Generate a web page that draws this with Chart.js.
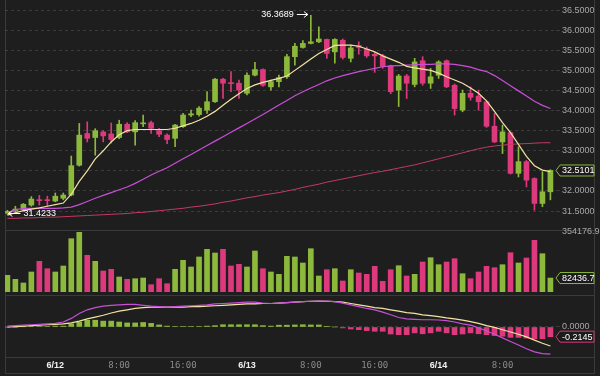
<!DOCTYPE html>
<html>
<head>
<meta charset="utf-8">
<script src="https://cdn.jsdelivr.net/npm/chart.js@4.4.1/dist/chart.umd.min.js"></script>
<style>
html,body{margin:0;padding:0;background:#1e1e1e;width:600px;height:376px;overflow:hidden;}
#wrap{position:relative;width:600px;height:376px;}
.ln{position:absolute;background:#3a3a3a;}
canvas{position:absolute;left:0;}
</style>
</head>
<body>
<div id="wrap">
  <div class="ln" style="left:5px;top:0;width:1px;height:374px;"></div>
  <div class="ln" style="left:594px;top:0;width:1px;height:374px;"></div>
  <div class="ln" style="left:5px;top:230px;width:590px;height:1px;"></div>
  <div class="ln" style="left:5px;top:295px;width:590px;height:1px;"></div>
  <div class="ln" style="left:5px;top:357px;width:590px;height:1px;"></div>
  <div class="ln" style="left:5px;top:373px;width:590px;height:1px;"></div>
  <canvas id="cPrice" width="600" height="236" style="top:0px"></canvas>
  <canvas id="cVol" width="600" height="70" style="top:226px"></canvas>
  <canvas id="cMacd" width="600" height="86" style="top:290px"></canvas>
</div>
<script>
// ---------------- data (hourly candles, 6/11 18:00 .. 6/14 14:00) ----------------
const candleOpen  = [31.45,31.50,31.54,31.65,31.78,31.78,31.75,31.82,31.90,32.64,33.43,33.33,33.47,33.42,33.33,33.66,33.47,33.67,33.70,33.50,33.39,33.31,33.60,33.89,33.90,34.01,34.22,34.78,34.69,34.68,34.43,34.88,35.02,34.59,34.72,34.84,35.34,35.57,35.67,35.71,35.77,35.46,35.75,35.30,35.62,35.53,35.40,35.36,35.11,34.51,34.86,34.65,35.24,34.68,34.88,35.24,34.63,34.01,34.43,34.36,34.22,33.61,33.22,33.45,32.44,32.73,32.31,31.69,31.98];
const candleHigh  = [31.52,31.62,31.69,31.86,31.89,31.87,31.95,31.95,32.87,33.68,33.72,33.55,33.50,33.69,33.76,33.70,33.75,33.89,33.74,33.56,33.42,33.66,33.93,34.01,34.10,34.47,34.80,34.80,34.97,34.76,34.94,35.20,35.04,34.76,34.88,35.40,35.67,35.74,36.3689,36.08,35.78,35.79,35.78,35.63,35.71,35.58,35.44,35.40,35.13,34.90,34.90,35.30,35.34,35.05,35.24,35.26,34.66,34.51,34.59,34.51,34.24,33.93,33.64,33.47,33.10,32.76,32.33,32.48,32.53];
const candleLow   = [31.4233,31.47,31.50,31.62,31.65,31.62,31.73,31.78,31.88,32.62,33.22,32.89,33.22,33.19,33.30,33.45,33.14,33.60,33.43,33.35,33.18,33.10,33.58,33.85,33.86,33.93,34.20,34.30,34.47,34.30,34.39,34.86,34.60,34.51,34.59,34.80,35.13,35.55,35.66,35.69,35.30,35.18,35.28,35.21,35.40,35.32,34.95,35.05,34.42,34.10,34.30,34.59,34.63,34.55,34.80,34.57,33.89,33.97,34.26,34.01,33.58,33.20,32.93,32.42,32.35,32.10,31.52,31.61,31.78];
const candleClose = [31.49,31.55,31.67,31.80,31.76,31.76,31.87,31.90,32.63,33.39,33.31,33.50,33.37,33.28,33.66,33.47,33.70,33.69,33.56,33.41,33.28,33.64,33.89,33.92,34.06,34.22,34.78,34.68,34.67,34.51,34.88,35.02,34.63,34.72,34.82,35.34,35.60,35.67,35.71,35.78,35.42,35.77,35.32,35.56,35.57,35.36,35.36,35.10,34.47,34.86,34.68,35.21,34.68,34.84,35.21,34.59,34.05,34.43,34.33,34.22,33.61,33.22,33.47,32.44,32.73,32.27,31.69,31.98,32.5101];
const volumes = [98580,74970,53130,118060,181220,137540,118060,153480,314630,354176.98,216640,181220,123960,134000,88545,74970,78510,82640,43090,78510,49000,134000,187120,147580,206610,252060,230220,252060,153480,163510,147580,242020,137540,118060,104480,210740,206610,171190,255600,94450,131640,137540,64930,131640,112160,104480,151710,63160,131640,155250,94450,104480,177090,202470,161150,177090,196570,108020,78510,118060,151710,143440,161150,231990,171190,200700,305190,226080,82436.7];
const maShort = [31.40,31.46,31.51,31.55,31.58,31.62,31.66,31.70,31.92,32.24,32.50,32.80,33.00,33.22,33.40,33.50,33.53,33.53,33.53,33.53,33.53,33.56,33.62,33.68,33.76,33.86,33.98,34.13,34.28,34.42,34.55,34.64,34.70,34.75,34.80,34.86,35.00,35.14,35.28,35.42,35.52,35.62,35.63,35.63,35.60,35.53,35.46,35.36,35.28,35.20,35.10,35.06,35.03,35.00,34.93,34.84,34.76,34.68,34.56,34.43,34.24,33.98,33.70,33.45,33.16,32.86,32.63,32.52,32.48];
const maMid = [31.43,31.53,31.57,31.57,31.57,31.57,31.57,31.58,31.60,31.66,31.74,31.82,31.89,31.96,32.03,32.10,32.19,32.29,32.40,32.49,32.58,32.69,32.80,32.91,33.02,33.13,33.24,33.35,33.46,33.57,33.68,33.79,33.90,34.02,34.14,34.25,34.37,34.47,34.56,34.65,34.74,34.81,34.87,34.92,34.97,35.01,35.05,35.09,35.11,35.12,35.13,35.14,35.15,35.15,35.16,35.16,35.15,35.12,35.08,35.02,34.97,34.87,34.75,34.62,34.49,34.36,34.23,34.13,34.05];
const maLong = [31.32,31.32,31.33,31.33,31.34,31.35,31.35,31.36,31.37,31.38,31.39,31.40,31.41,31.42,31.43,31.44,31.46,31.47,31.49,31.51,31.53,31.55,31.57,31.60,31.62,31.65,31.68,31.72,31.75,31.79,31.83,31.86,31.90,31.93,31.96,32.00,32.04,32.09,32.13,32.17,32.22,32.26,32.30,32.34,32.38,32.42,32.46,32.49,32.53,32.57,32.61,32.65,32.70,32.75,32.80,32.85,32.90,32.95,33.00,33.05,33.09,33.12,33.14,33.16,33.17,33.18,33.19,33.20,33.20];
const macdDif = [0.02,0.03,0.04,0.05,0.06,0.07,0.08,0.11,0.19,0.30,0.38,0.43,0.46,0.48,0.49,0.50,0.50,0.48,0.46,0.45,0.44,0.45,0.46,0.47,0.48,0.49,0.51,0.52,0.53,0.54,0.55,0.55,0.53,0.52,0.53,0.54,0.55,0.56,0.57,0.575,0.575,0.56,0.53,0.49,0.45,0.41,0.38,0.33,0.27,0.21,0.18,0.17,0.16,0.16,0.155,0.14,0.11,0.07,0.04,-0.02,-0.09,-0.16,-0.24,-0.32,-0.40,-0.48,-0.55,-0.59,-0.60];
const macdDea = [0.00,0.01,0.02,0.03,0.04,0.05,0.06,0.07,0.09,0.13,0.18,0.22,0.26,0.31,0.35,0.38,0.41,0.43,0.44,0.44,0.44,0.44,0.44,0.45,0.45,0.46,0.47,0.48,0.49,0.50,0.51,0.51,0.52,0.52,0.53,0.54,0.55,0.56,0.57,0.575,0.57,0.56,0.55,0.52,0.49,0.46,0.43,0.41,0.38,0.35,0.32,0.30,0.27,0.25,0.23,0.20,0.18,0.15,0.12,0.08,0.03,-0.01,-0.06,-0.11,-0.16,-0.22,-0.29,-0.36,-0.42];
const macdHist = [-0.01,-0.01,0.005,0.01,0.01,0.01,0.02,0.02,0.07,0.11,0.15,0.15,0.13,0.13,0.11,0.09,0.09,0.10,0.08,0.045,0.02,0.01,0.01,0.01,0.01,0.02,0.03,0.05,0.05,0.05,0.05,0.05,0.03,0.02,0.04,0.04,0.045,0.05,0.045,0.045,0.015,0.00,-0.02,-0.045,-0.06,-0.08,-0.095,-0.095,-0.155,-0.17,-0.17,-0.13,-0.15,-0.13,-0.095,-0.13,-0.17,-0.155,-0.13,-0.15,-0.17,-0.19,-0.205,-0.23,-0.23,-0.245,-0.26,-0.26,-0.2145];
const priceTicks = [31.5,32.0,32.5,33.0,33.5,34.0,34.5,35.0,35.5,36.0,36.5];
const volumeTicks = [354176.98];
const macdTicks = [0];
const timeTickIndex = [6,14,22,30,38,46,54,62];
const timeTickLabels = ['6/12','8:00','16:00','6/13','8:00','16:00','6/14','8:00'];

// ---------------- style ----------------
const GREEN = '#8cb83c';
const RED = '#dc3a7c';
const GRID = 'rgba(255,255,255,0.13)';
const TICK = '#a8a8a8';
Chart.defaults.font.family = '"Liberation Sans", Arial, sans-serif';
Chart.defaults.font.size = 9;
Chart.defaults.color = TICK;

const N = candleClose.length;
const isUp = i => candleClose[i] >= candleOpen[i];
const xScaleBase = {type:'linear', min:-0.3, max:N-0.3, offset:false, display:false, grid:{display:false}};
const rightW = s => { s.width = 44; s.paddingTop = 0; s.paddingBottom = 0; };
const common = {
  responsive:false, animation:false, events:[],
  plugins:{legend:{display:false}, tooltip:{enabled:false}}
};

function tag(ctx, y, text, color){
  const x0 = 556, x1 = 594, h = 5.5;
  ctx.save();
  ctx.beginPath();
  ctx.moveTo(x0, y); ctx.lineTo(x0+4, y-h); ctx.lineTo(x1, y-h); ctx.lineTo(x1, y+h); ctx.lineTo(x0+4, y+h); ctx.closePath();
  ctx.fillStyle = '#1b1b1b'; ctx.fill();
  ctx.strokeStyle = color; ctx.lineWidth = 1; ctx.stroke();
  ctx.fillStyle = '#ffffff'; ctx.font = '9px "Liberation Sans", Arial, sans-serif';
  ctx.textAlign = 'left'; ctx.textBaseline = 'middle';
  ctx.fillText(text, x0+6, y+0.5);
  ctx.restore();
}

// ---------------- price chart ----------------
const priceAnno = {
  id:'priceAnno',
  afterDraw(chart){
    const ctx = chart.ctx, xs = chart.scales.x, ys = chart.scales.y;
    let hi = 0, lo = 0;
    for (let i=1;i<N;i++){ if (candleHigh[i]>candleHigh[hi]) hi=i; if (candleLow[i]<candleLow[lo]) lo=i; }
    ctx.save();
    ctx.strokeStyle = '#ffffff'; ctx.fillStyle = '#ffffff'; ctx.lineWidth = 1;
    ctx.font = '9px "Liberation Sans", Arial, sans-serif'; ctx.textBaseline = 'middle';
    // max
    let x = xs.getPixelForValue(hi), y = Math.round(ys.getPixelForValue(candleHigh[hi])) - 0.5;
    ctx.beginPath(); ctx.moveTo(x-14, y); ctx.lineTo(x-3, y); ctx.moveTo(x-7, y-3); ctx.lineTo(x-3, y); ctx.lineTo(x-7, y+3); ctx.stroke();
    ctx.textAlign = 'right'; ctx.fillText(candleHigh[hi].toFixed(4), x-17, y);
    // min
    x = xs.getPixelForValue(lo); y = Math.round(ys.getPixelForValue(candleLow[lo])) - 0.5;
    ctx.beginPath(); ctx.moveTo(x+13, y); ctx.lineTo(x+1, y); ctx.moveTo(x+5, y-3); ctx.lineTo(x+1, y); ctx.lineTo(x+5, y+3); ctx.stroke();
    ctx.textAlign = 'left'; ctx.fillText(candleLow[lo].toFixed(4), x+16, y);
    ctx.restore();
    tag(ctx, ys.getPixelForValue(candleClose[N-1]), candleClose[N-1].toFixed(4), GREEN);
  }
};

new Chart(document.getElementById('cPrice'), {
  data:{datasets:[
    {type:'line', label:'MA short', data:maShort.map((v,i)=>({x:i,y:v})), borderColor:'#f3e3a2', borderWidth:1.2, pointRadius:0, order:0},
    {type:'line', label:'MA mid', data:maMid.map((v,i)=>({x:i,y:v})), borderColor:'#c84fd8', borderWidth:1.2, pointRadius:0, order:0},
    {type:'line', label:'MA long', data:maLong.map((v,i)=>({x:i,y:v})), borderColor:'#c43a62', borderWidth:1, pointRadius:0, order:0},
    {type:'bar', label:'body', data:candleOpen.map((o,i)=>({x:i,y:[o,candleClose[i]]})), backgroundColor:candleOpen.map((o,i)=>isUp(i)?GREEN:RED), barThickness:5, minBarLength:1, grouped:false, order:1},
    {type:'bar', label:'wick', data:candleLow.map((l,i)=>({x:i,y:[l,candleHigh[i]]})), backgroundColor:candleOpen.map((o,i)=>isUp(i)?GREEN:RED), barThickness:1, grouped:false, order:2}
  ]},
  options:Object.assign({}, common, {
    layout:{padding:{left:5,right:0,top:0,bottom:6}},
    scales:{
      x:Object.assign({}, xScaleBase),
      y:{position:'right', min:31.03, max:36.75, afterFit:rightW,
         afterBuildTicks(s){ s.ticks = priceTicks.map(v=>({value:v})); },
         ticks:{padding:2, color:TICK, callback:v=>Number(v).toFixed(4)},
         grid:{color:GRID, drawTicks:true, tickLength:4},
         border:{display:false, dash:[3,3]}}
    }
  }),
  plugins:[priceAnno]
});

// ---------------- volume chart ----------------
new Chart(document.getElementById('cVol'), {
  data:{datasets:[
    {type:'bar', label:'volume', data:volumes.map((v,i)=>({x:i,y:v})), backgroundColor:volumes.map((v,i)=>isUp(i)?GREEN:RED), barThickness:5}
  ]},
  options:Object.assign({}, common, {
    layout:{padding:{left:5,right:0,top:6,bottom:4}},
    scales:{
      x:Object.assign({}, xScaleBase),
      y:{position:'right', min:0, max:volumeTicks[0], afterFit:rightW,
         afterBuildTicks(s){ s.ticks = volumeTicks.map(v=>({value:v})); },
         ticks:{padding:6, color:TICK, callback:v=>Number(v).toFixed(2)},
         grid:{display:false, drawTicks:false}, border:{display:false}}
    }
  }),
  plugins:[{id:'volTag', afterDraw(chart){ tag(chart.ctx, chart.scales.y.getPixelForValue(volumes[N-1]), String(volumes[N-1]), GREEN); }}]
});

// ---------------- MACD chart + time axis ----------------
new Chart(document.getElementById('cMacd'), {
  data:{datasets:[
    {type:'line', label:'DIF', data:macdDif.map((v,i)=>({x:i,y:v})), borderColor:'#c84fd8', borderWidth:1.2, pointRadius:0, order:0},
    {type:'line', label:'DEA', data:macdDea.map((v,i)=>({x:i,y:v})), borderColor:'#f3e3a2', borderWidth:1.2, pointRadius:0, order:0},
    {type:'bar', label:'MACD', data:macdHist.map((v,i)=>({x:i,y:v})), backgroundColor:macdHist.map(v=>v>=0?GREEN:RED), barThickness:5, order:1}
  ]},
  options:Object.assign({}, common, {
    layout:{padding:{left:5,right:0,top:5,bottom:3}},
    scales:{
      x:{type:'linear', min:-0.3, max:N-0.3, offset:false, position:'bottom',
         afterFit(s){ s.height = 16; s.paddingLeft = 0; s.paddingRight = 0; },
         afterBuildTicks(s){ s.ticks = timeTickIndex.map(v=>({value:v})); },
         ticks:{autoSkip:false, maxRotation:0, padding:3,
           callback:(v,i)=>timeTickLabels[i],
           color:c=>timeTickLabels[c.index] && timeTickLabels[c.index].indexOf('/')>=0 ? '#f2f2f2' : '#8a8a8a',
           font:c=>timeTickLabels[c.index] && timeTickLabels[c.index].indexOf('/')>=0 ? {family:'"Liberation Sans", Arial, sans-serif', size:9, weight:'bold'} : {family:'"DejaVu Sans Mono", monospace', size:9}},
         grid:{display:false, drawTicks:false}, border:{display:false}},
      y:{position:'right', min:-0.664, max:0.708, afterFit:rightW,
         afterBuildTicks(s){ s.ticks = macdTicks.map(v=>({value:v})); },
         ticks:{padding:2, color:TICK, callback:v=>Number(v).toFixed(4)},
         grid:{color:GRID, drawTicks:true, tickLength:4},
         border:{display:false, dash:[3,3]}}
    }
  }),
  plugins:[{id:'macdTag', afterDraw(chart){ tag(chart.ctx, chart.scales.y.getPixelForValue(macdHist[N-1]), macdHist[N-1].toFixed(4), RED); }}]
});
</script>
</body>
</html>
